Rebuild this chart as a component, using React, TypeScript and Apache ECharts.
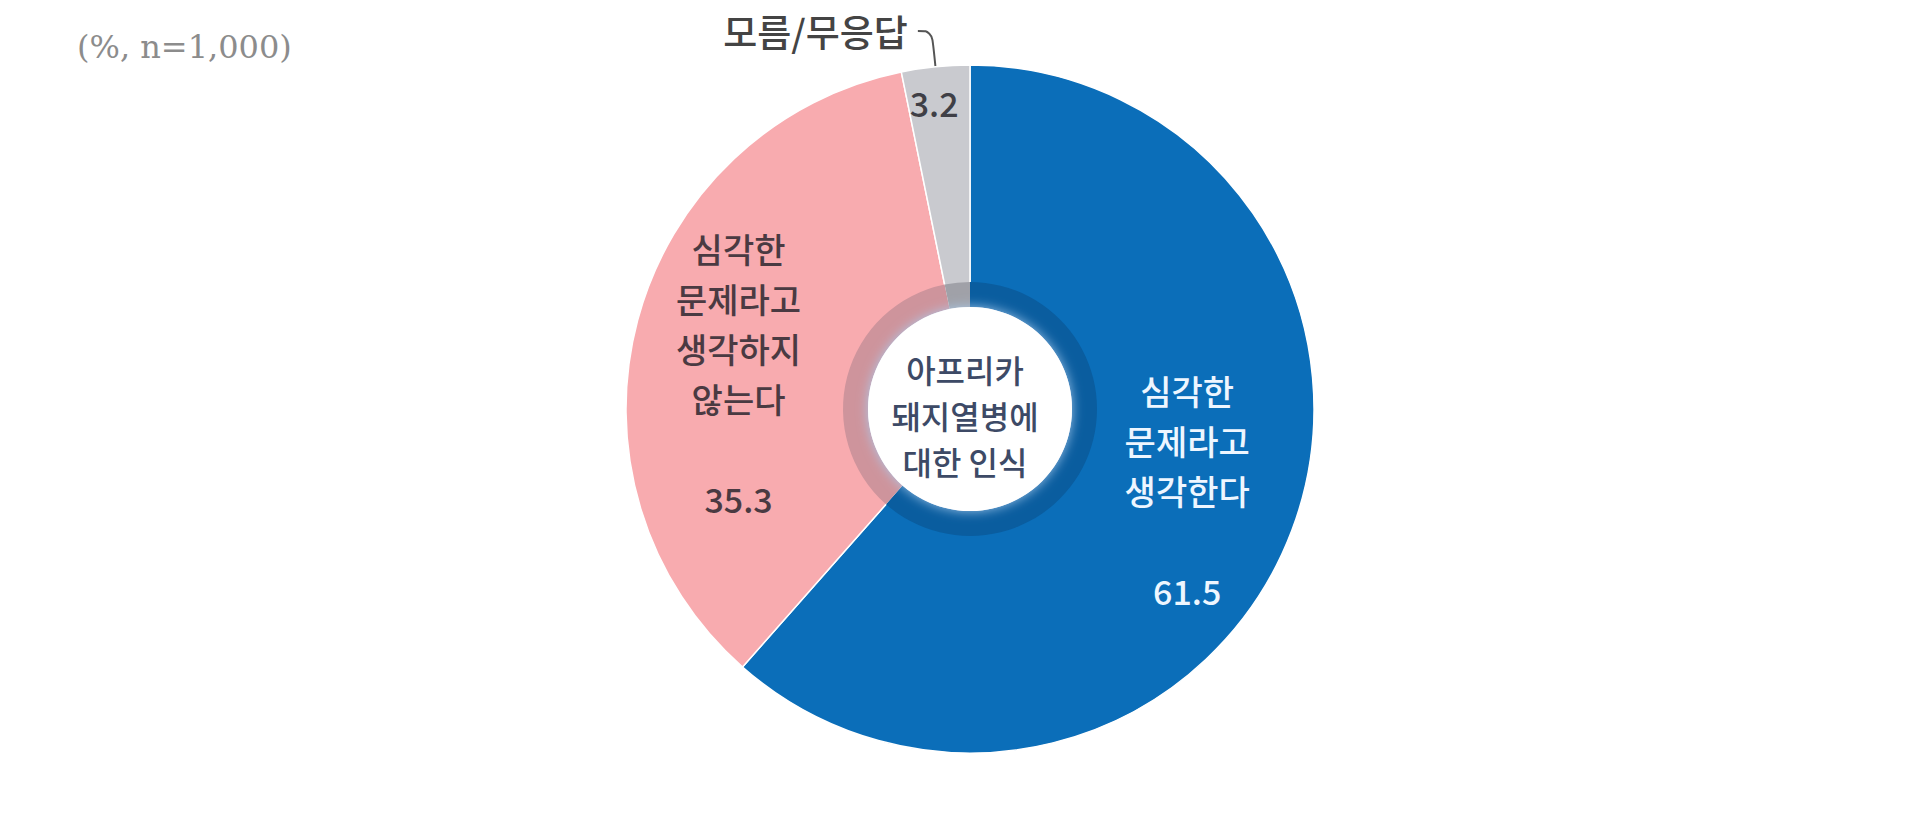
import React, { useEffect, useRef } from 'react';
import * as echarts from 'echarts';

// survey shares (%), clockwise from 12 o'clock
const categories = [
  '심각한\n문제라고\n생각한다',
  '심각한\n문제라고\n생각하지\n않는다',
  '모름/무응답',
];
const values = [61.5, 35.3, 3.2];
const sliceColors = ['#0B6EB9', '#F8ABAF', '#C9CACF'];
const ringColors = ['#0A5D9F', '#CE949C', '#A0A1A8'];
const labelColors = ['#EEF6FF', '#4A3A42', '#3F3F46'];
const centerTitle = '아프리카\n돼지열병에\n대한 인식';
const unitNote = '(%, n=1,000)';

const CJK = '"Noto Sans CJK KR", "Noto Sans", sans-serif';
const CENTER: [number, number] = [970, 409];

// nudges so the inside labels sit where the original put them
const labelShift = [
  { dx: -5, dy: -2 },
  { dx: -2, dy: 26 },
  { dx: -12, dy: -70 },
];

const App: React.FC = () => {
  const chartRef = useRef<HTMLDivElement>(null);

  useEffect(() => {
    if (!chartRef.current) return;
    const chart = echarts.init(chartRef.current, null, { renderer: 'svg' });

    const option: echarts.EChartsOption = {
      animation: false,
      backgroundColor: '#ffffff',
      title: {
        text: unitNote,
        left: 72,
        top: 26,
        textStyle: {
          fontFamily: '"DejaVu Serif", serif',
          fontSize: 32,
          fontWeight: 'normal',
          color: '#8c8c8c',
        },
      },
      series: [
        {
          // main slices
          type: 'pie',
          center: CENTER,
          radius: [125, 344],
          startAngle: 90,
          clockwise: true,
          avoidLabelOverlap: false,
          silent: true,
          itemStyle: { borderColor: '#ffffff', borderWidth: 1.5 },
          label: {
            show: true,
            position: 'inside',
            fontFamily: CJK,
            fontSize: 34,
            fontWeight: 500,
            lineHeight: 50,
            align: 'center',
            formatter: (p: any) =>
              p.dataIndex === 2 ? `${p.value}` : `${p.name}\n\n${p.value}`,
          },
          labelLayout: (p: any) => labelShift[p.dataIndex],
          data: values.map((v, i) => ({
            value: v,
            name: categories[i],
            itemStyle: { color: sliceColors[i] },
            label: { color: labelColors[i] },
          })),
        },
        {
          // callout for the small slice
          type: 'pie',
          center: CENTER,
          radius: [125, 344],
          startAngle: 90,
          clockwise: true,
          avoidLabelOverlap: false,
          silent: true,
          itemStyle: { color: 'rgba(0,0,0,0)' },
          label: {
            position: 'outside',
            fontFamily: CJK,
            fontSize: 37,
            fontWeight: 500,
            color: '#444444',
            distanceToLabelLine: 10,
            padding: [22, 0, 0, 0],
          },
          labelLine: {
            length: 36,
            length2: 14,
            smooth: 0.4,
            lineStyle: { color: '#555555', width: 2 },
          },
          data: values.map((v, i) => ({
            value: v,
            name: categories[i],
            label: { show: i === 2 },
            labelLine: { show: i === 2 },
          })),
        },
        {
          // darker inner ring
          type: 'pie',
          center: CENTER,
          radius: [102, 127],
          startAngle: 90,
          clockwise: true,
          silent: true,
          label: { show: false },
          data: values.map((v, i) => ({
            value: v,
            name: categories[i],
            itemStyle: { color: ringColors[i] },
          })),
        },
        {
          // white hub with title
          type: 'pie',
          center: CENTER,
          radius: [0, 102],
          silent: true,
          itemStyle: {
            color: '#ffffff',
            shadowBlur: 12,
            shadowColor: 'rgba(170,205,240,0.9)',
          },
          label: {
            show: true,
            position: 'center',
            fontFamily: CJK,
            fontSize: 32,
            fontWeight: 500,
            lineHeight: 46,
            color: '#3D4A66',
            formatter: '{b}',
          },
          labelLayout: { dx: -5, dy: 6 },
          data: [{ value: 1, name: centerTitle }],
        },
      ],
    };

    chart.setOption(option, true);

    return () => {
      chart.dispose();
    };
  }, []);

  return (
    <div
      ref={chartRef}
      style={{ position: 'absolute', left: 0, top: 0, width: '1920px', height: '819px' }}
    />
  );
};

export default App;
